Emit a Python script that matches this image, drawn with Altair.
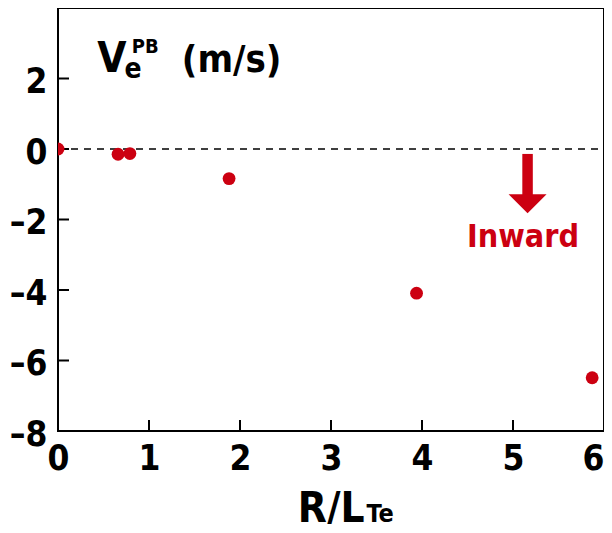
import altair as alt
import pandas as pd

# data
rlte = [0.0, 0.66, 0.79, 1.88, 3.94, 5.87]
vpb = [0.0, -0.15, -0.13, -0.84, -4.09, -6.49]
x_ticks = [0, 1, 2, 3, 4, 5, 6]
y_ticks = [-8, -6, -4, -2, 0, 2]
x_inner_ticks = [1, 2, 3, 4, 5]
y_inner_ticks = [-6, -4, -2, 0, 2]

RED = "#cc0011"
FONT = "DejaVu Sans Condensed, Liberation Sans Narrow, sans-serif"

pts = pd.DataFrame({"x": rlte, "y": vpb})

xs = alt.Scale(domain=[0, 6], nice=False, zero=False)
ys = alt.Scale(domain=[-8, 4], nice=False, zero=False)

base_x = alt.X("x:Q", scale=xs, axis=alt.Axis(
    values=x_ticks, format="d", tickSize=0, domain=False, grid=False, title=None,
    labelFont=FONT, labelFontSize=35, labelFontWeight="bold", labelColor="black",
    labelPadding=10, labelBaseline="top", labelFlush=False,
    labelAlign={"condition": {"test": "datum.value == 6", "value": "right"}, "value": "center"}))
base_y = alt.Y("y:Q", scale=ys, axis=alt.Axis(
    values=y_ticks, tickSize=0, domain=False, grid=False, title=None,
    labelExpr="datum.value < 0 ? '\u2013' + abs(datum.value) : '' + datum.value",
    labelFont=FONT, labelFontSize=35, labelFontWeight="bold", labelColor="black",
    labelPadding=11, labelBaseline="middle", labelOffset=3, labelFlush=False))

points = alt.Chart(pts).mark_circle(size=165, color=RED, opacity=1, clip=True).encode(
    x=base_x, y=base_y)

zero_line = alt.Chart(pd.DataFrame({"x": [0], "x2": [6], "y": [0]})).mark_rule(
    color="black", strokeWidth=1.5, strokeDash=[7, 6]).encode(
    x=alt.X("x:Q", scale=xs), x2="x2:Q", y=alt.Y("y:Q", scale=ys))

xt = alt.Chart(pd.DataFrame({"x": x_inner_ticks})).mark_rule(
    color="black", strokeWidth=2).encode(
    x=alt.X("x:Q", scale=xs), y=alt.value(423), y2=alt.value(412))
yt = alt.Chart(pd.DataFrame({"y": y_inner_ticks})).mark_rule(
    color="black", strokeWidth=2).encode(
    y=alt.Y("y:Q", scale=ys), x=alt.value(0), x2=alt.value(11))

arrow_shaft = alt.Chart(pd.DataFrame({"x": [5.16], "y": [-0.14], "y2": [-1.32]})).mark_rule(
    color=RED, strokeWidth=10.5).encode(
    x=alt.X("x:Q", scale=xs), y=alt.Y("y:Q", scale=ys), y2="y2:Q")
arrow_head = alt.Chart(pd.DataFrame({"x": [5.16], "y": [-1.55]})).mark_point(
    shape="M-1,-0.5L1,-0.5L0,0.5Z", size=1444, filled=True, color=RED, opacity=1,
    strokeWidth=0).encode(x=alt.X("x:Q", scale=xs), y=alt.Y("y:Q", scale=ys))

def label(text, x, y, size, color="black", align="left"):
    return alt.Chart(pd.DataFrame({"x": [x], "y": [y], "t": [text]})).mark_text(
        font=FONT, fontSize=size, fontWeight="bold", color=color, align=align,
        baseline="alphabetic", clip=False).encode(
        x=alt.X("x:Q", scale=xs), y=alt.Y("y:Q", scale=ys), text="t:N")

inward = label("Inward", 5.11, -2.78, 32, RED, "center")
v_main = label("V", 0.43, 2.19, 42)
v_sub = label("e", 0.73, 2.01, 28)
v_sup = label("PB", 0.81, 2.72, 20)
v_unit = label("(m/s)", 1.36, 2.19, 38)
xt_main = label("R/L", 3.37, -10.58, 42, align="right")
xt_sub = label("Te", 3.39, -10.58, 25)

chart = alt.layer(
    zero_line, xt, yt, points, arrow_shaft, arrow_head, inward,
    v_main, v_sub, v_sup, v_unit, xt_main, xt_sub
).properties(
    width=546, height=423,
    autosize=alt.AutoSizeParams(type="none"),
    padding={"left": 50, "top": 0, "right": 0, "bottom": 93},
    background="white",
).configure_view(stroke="black", strokeWidth=2)

chart.save("out.html", embed_options={"renderer": "svg", "actions": False})
